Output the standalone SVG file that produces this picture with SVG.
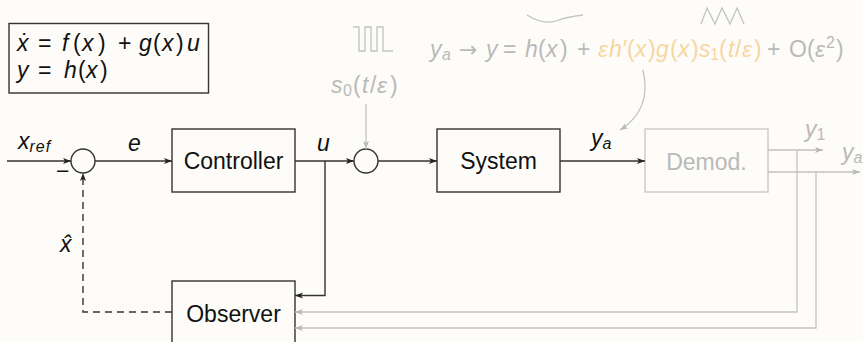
<svg xmlns="http://www.w3.org/2000/svg" width="863" height="342" viewBox="0 0 863 342">
<defs>
<marker id="ab" markerWidth="9" markerHeight="7" refX="8" refY="3.5" orient="auto" markerUnits="userSpaceOnUse"><path d="M0,0.5 L8,3.5 L0,6.5 L2,3.5 z" fill="#222"/></marker>
<marker id="ag" markerWidth="9" markerHeight="7" refX="8" refY="3.5" orient="auto" markerUnits="userSpaceOnUse"><path d="M0,0.5 L8,3.5 L0,6.5 L2,3.5 z" fill="#b8b8b8"/></marker>
</defs>
<style>
text{font-family:"Liberation Sans","DejaVu Sans",sans-serif;}
.lbl{font-size:23px;fill:#111;text-anchor:middle;}
.m{font-size:23px;fill:#111;}
.i{font-style:italic;}
.g{fill:#b9b9b9;}
.o{fill:#f8d6a0;}
.box{fill:none;stroke:#333;stroke-width:1.4;}
.gbox{fill:none;stroke:#c9c9c7;stroke-width:1.4;}
.ln{fill:none;stroke:#333;stroke-width:1.4;}
.gl{fill:none;stroke:#c2c2c0;stroke-width:1.3;}
.sub{font-size:16px;}
</style>
<rect width="863" height="342" fill="#fdfcf8"/>

<g id="equations">
<rect class="box" x="9" y="23.5" width="199.5" height="69.5"/>
<text class="m"><tspan class="i" x="17" y="51">ẋ</tspan><tspan x="38">=</tspan><tspan class="i" x="62">f</tspan><tspan x="73">(</tspan><tspan class="i" x="82">x</tspan><tspan x="98">)</tspan><tspan x="118">+</tspan><tspan class="i" x="139">g</tspan><tspan x="153">(</tspan><tspan class="i" x="162">x</tspan><tspan x="176">)</tspan><tspan class="i" x="187">u</tspan></text>
<text class="m"><tspan class="i" x="17" y="78">y</tspan><tspan x="38">=</tspan><tspan class="i" x="64">h</tspan><tspan x="78">(</tspan><tspan class="i" x="86">x</tspan><tspan x="100">)</tspan></text>
</g>

<g id="sum1"><circle cx="83" cy="161" r="12" fill="none" stroke="#333" stroke-width="1.4"/></g>
<g id="controller"><rect class="box" x="172" y="129" width="123" height="63"/><text class="lbl" x="233.5" y="169">Controller</text></g>
<g id="sum2"><circle cx="366" cy="161" r="12" fill="none" stroke="#333" stroke-width="1.4"/></g>
<g id="system"><rect class="box" x="437" y="129" width="123" height="63"/><text class="lbl" x="498.5" y="169">System</text></g>
<g id="demod"><rect class="gbox" x="645" y="129" width="123" height="63"/><text class="lbl g" x="706.5" y="170">Demod.</text></g>
<g id="observer"><rect class="box" x="172" y="281" width="123" height="70"/><text class="lbl" x="233.5" y="322">Observer</text></g>

<g id="connectors">
<path class="ln" d="M7,161 H71" marker-end="url(#ab)"/>
<path class="ln" d="M95,161 H172" marker-end="url(#ab)"/>
<path class="ln" d="M295,161 H354" marker-end="url(#ab)"/>
<path class="ln" d="M378,161 H437" marker-end="url(#ab)"/>
<path class="ln" d="M560,161 H645" marker-end="url(#ab)"/>
<path class="ln" d="M325,161 V295.5 H295" marker-end="url(#ab)"/>
<path class="ln" d="M172,312 H83 V173" stroke-dasharray="7,5" marker-end="url(#ab)"/>
<path class="gl" d="M366,104 V149" marker-end="url(#ag)"/>
<path class="gl" d="M768,150 H823" marker-end="url(#ag)"/>
<path class="gl" d="M768,172 H860" marker-end="url(#ag)"/>
<path class="gl" d="M797,150 V312 H295" marker-end="url(#ag)"/>
<path class="gl" d="M816,172 V328 H295" marker-end="url(#ag)"/>
<path class="gl" d="M643,70 C649,95 642,116 620,130" marker-end="url(#ag)"/>
</g>

<g id="labels">
<text class="m"><tspan class="i" x="18" y="149">x</tspan><tspan class="i sub" dy="3" letter-spacing="1">ref</tspan></text>
<text class="m" x="56" y="179">−</text>
<text class="m i" x="128" y="151">e</text>
<text class="m i" x="317" y="151">u</text>
<text class="m"><tspan class="i" x="591" y="146">y</tspan><tspan class="i sub" dy="3">a</tspan></text>
<text class="m i" x="60" y="252" font-family="DejaVu Sans">x̂</text>
<text class="m g"><tspan class="i" x="805" y="137">y</tspan><tspan class="sub" dy="3">1</tspan></text>
<text class="m g"><tspan class="i" x="842" y="160">y</tspan><tspan class="i sub" dy="3">a</tspan></text>
</g>

<g id="modulation">
<path class="gl" d="M353,27 H359 V51 H365 V27 H371 V51 H377 V27 H383 V51 H393"/>
<text class="m g"><tspan class="i" x="331" y="93">s</tspan><tspan class="sub" x="343" dy="3">0</tspan><tspan x="353" dy="-3">(</tspan><tspan class="i" x="362">t</tspan><tspan x="370">/</tspan><tspan class="i" x="377">ε</tspan><tspan x="390">)</tspan></text>
<path class="gl" d="M527,15 Q543,25 556,21 Q566,17 583,15"/>
<path class="gl" d="M701,24 L707,8 L715,24 L722,8 L730,24 L737,8 L744,24"/>
<text class="m g"><tspan class="i" x="430" y="57">y</tspan><tspan class="i sub" x="442" dy="3">a</tspan><tspan x="459" dy="-3" font-family="DejaVu Sans" font-size="22">→</tspan><tspan class="i" x="486">y</tspan><tspan x="503">=</tspan><tspan class="i" x="525">h</tspan><tspan x="538">(</tspan><tspan class="i" x="546">x</tspan><tspan x="560">)</tspan><tspan x="577">+</tspan><tspan class="o i" x="598">ε</tspan><tspan class="o i" x="609">h′</tspan><tspan class="o" x="627">(</tspan><tspan class="o i" x="635">x</tspan><tspan class="o" x="648">)</tspan><tspan class="o i" x="656">g</tspan><tspan class="o" x="670">(</tspan><tspan class="o i" x="678">x</tspan><tspan class="o" x="691">)</tspan><tspan class="o i" x="699">s</tspan><tspan class="o sub" x="710" dy="3">1</tspan><tspan class="o" x="719" dy="-3">(</tspan><tspan class="o i" x="728">t</tspan><tspan class="o" x="735">/</tspan><tspan class="o i" x="742">ε</tspan><tspan class="o" x="754">)</tspan><tspan x="767">+</tspan><tspan x="789">O</tspan><tspan x="807">(</tspan><tspan class="i" x="815">ε</tspan><tspan class="sub" x="826" dy="-9">2</tspan><tspan x="836" dy="9">)</tspan></text>
</g>
</svg>
